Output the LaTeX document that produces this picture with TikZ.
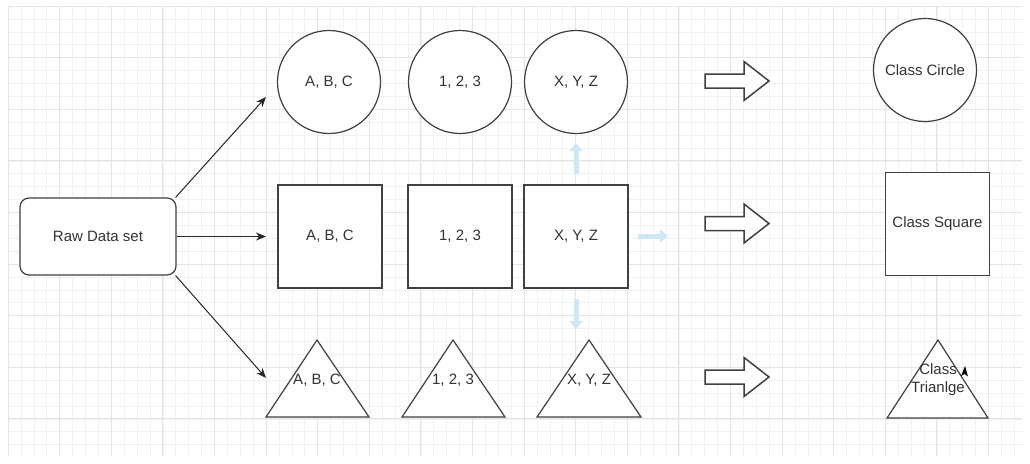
\documentclass[tikz,border=0pt]{standalone}
\usepackage{fontspec}
\setmainfont{Liberation Sans}
\usetikzlibrary{arrows.meta}
\definecolor{ink}{HTML}{333333}
\definecolor{edge}{HTML}{404040}
\definecolor{hint}{HTML}{CFE8F8}
\tikzset{
  gridminor/.style={draw=black!5, line width=0.6pt},
  gridmajor/.style={draw=black!10, line width=0.8pt},
  lbl/.style={font=\fontsize{15}{18}\selectfont, text=ink, inner sep=0pt},
  roundbox/.style={draw=edge, line width=1.2pt, rounded corners=9pt, fill=white,
    minimum width=156pt, minimum height=77pt, lbl},
  circ/.style={draw=edge, line width=1.2pt, circle, fill=white, minimum size=103pt, lbl},
  sq/.style={draw=edge, line width=1.2pt, rectangle, fill=white,
    minimum width=104pt, minimum height=103pt, lbl},
  tri/.style={draw=edge, line width=1.2pt, fill=white, line join=miter},
  feed/.style={draw=black!85, line width=1pt, -{Stealth[length=10pt,width=8pt]}},
  blockarrow/.style={draw=edge, line width=1.5pt, fill=white, line join=miter},
  hintarrow/.style={draw=hint, line width=5pt, -{Triangle[length=8pt,width=13pt]}},
}
\begin{document}
\begin{tikzpicture}[x=1pt,y=-1pt]
\useasboundingbox (0,0) rectangle (1030,463);
\fill[white] (0,0) rectangle (1030,463);

% background grid
\foreach \i in {0,...,78} {
  \pgfmathsetmacro{\gx}{8+\i*12.9}
  \draw[gridminor] (\gx,6) -- (\gx,456);
}
\foreach \i in {0,...,34} {
  \pgfmathsetmacro{\gy}{6+\i*12.9}
  \draw[gridminor] (8,\gy) -- (1022,\gy);
}
\foreach \i in {0,...,19} {
  \pgfmathsetmacro{\gx}{8+\i*51.6}
  \draw[gridmajor] (\gx,6) -- (\gx,456);
}
\foreach \i in {0,...,8} {
  \pgfmathsetmacro{\gy}{6+\i*51.6}
  \draw[gridmajor] (8,\gy) -- (1022,\gy);
}

% source
\node[roundbox] (raw) at (98,236.5) {Raw Data set};

% circle row
\node[circ] (cA) at (329,82) {A, B, C};
\node[circ] (c1) at (460,82) {1, 2, 3};
\node[circ] (cX) at (576,82) {X, Y, Z};
\node[circ] (cC) at (925,70) {Class Circle};

% square row
\node[sq] (sA) at (330,236.5) {A, B, C};
\node[sq] (s1) at (460,236.5) {1, 2, 3};
\node[sq] (sX) at (576,236.5) {X, Y, Z};
\node[sq] (sC) at (937.5,224) {Class Square};

% triangle row
\draw[tri] (266,417) -- (317,340) -- (369,417) -- cycle;
\draw[tri] (402,417) -- (453,340) -- (505,417) -- cycle;
\draw[tri] (537,417) -- (589,340) -- (641,417) -- cycle;
\draw[tri] (887,418) -- (938,340) -- (988,418) -- cycle;
\node[lbl] (tA) at (317,380) {A, B, C};
\node[lbl] (t1) at (453,380) {1, 2, 3};
\node[lbl] (tX) at (589,380) {X, Y, Z};
\node[lbl, align=center] (tC) at (938,380) {Class\\Trianlge};
% pointer mark next to the label
\fill[black] (965,366) -- (961,376) -- (964.5,374) -- (968,376.5) -- cycle;

% connectors from the source
\coordinate (endA) at (266,97);
\coordinate (endS) at (266,236.5);
\coordinate (endT) at (266,378);
\draw[feed] (raw.north east) ++(-1,0) -- (endA);
\draw[feed] (raw.east) -- (endS);
\draw[feed] (raw.south east) ++(-1,0) -- (endT);

% block arrows toward the classes
\foreach \cy/\nm in {81/ba1, 223.5/ba2, 377/ba3} {
  \draw[blockarrow] (705,\cy-7) -- (744,\cy-7) -- (744,\cy-19.5) -- (769,\cy)
    -- (744,\cy+19.5) -- (744,\cy+7) -- (705,\cy+7) -- cycle;
}

% faint hover arrows around the selected square
\coordinate (hU) at (576,143);
\coordinate (hR) at (668,236);
\coordinate (hD) at (576,329);
\draw[hintarrow] (576,174) -- (hU);
\draw[hintarrow] (638,236) -- (hR);
\draw[hintarrow] (576,299) -- (hD);
\end{tikzpicture}
\end{document}
